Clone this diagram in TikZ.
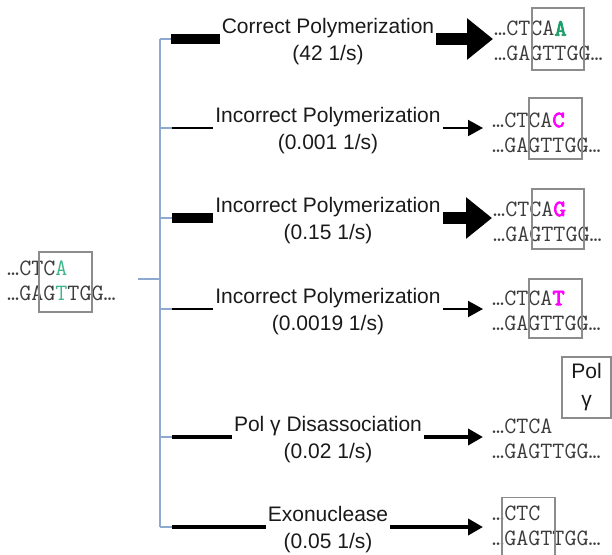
\documentclass[tikz,border=0pt]{standalone}
\usepackage{fontspec}
\setmainfont{Liberation Sans}
\newfontfamily\dnab{lmmono10-regular.otf}[FakeBold=3]
\usetikzlibrary{arrows.meta}
\definecolor{labc}{HTML}{1A1A1A}
\definecolor{dnac}{HTML}{3C3C3C}
\definecolor{boxc}{HTML}{8C8C8C}
\definecolor{brc}{HTML}{8EA9D0}
\definecolor{cgl}{HTML}{3FB58A}
\definecolor{cgd}{HTML}{1E9E6A}
\definecolor{mag}{HTML}{FF00FF}
\newcommand{\bb}[2]{\textcolor{#1}{\dnab #2}}
\begin{document}
\begin{tikzpicture}[x=1pt,y=-1pt,
 lab/.style={align=center, font=\fontsize{21}{27}\selectfont, text=labc, inner sep=2pt},
 dna/.style={align=left, font=\ttfamily\fontsize{23.4}{25}\selectfont, text=dnac, inner sep=0pt, anchor=west},
 gbox/.style={draw=boxc, line width=1.3pt, inner sep=0pt},
 bracket/.style={draw=brc, line width=1.4pt},
 thickln/.style={line width=10pt},
 thinln/.style={line width=2pt},
 medln/.style={line width=4pt},
 bigarrow/.style={line width=12pt, -{Triangle[length=26pt,width=40pt]}, shorten >=1pt},
 smallarrow/.style={line width=2pt, -{Triangle[length=15pt,width=16pt]}, shorten >=9pt},
 medarrow/.style={line width=4pt, -{Triangle[length=15pt,width=16pt]}, shorten >=9pt},
]
\useasboundingbox (0,0) rectangle (612,554);
\clip (0,0) rectangle (612,554);

% source
\node[dna] (d0) at (7,280.5) {…CTC\textcolor{cgl}{A}\\…GAG\textcolor{cgl}{T}TGG…};
\node[gbox, minimum width=53pt, minimum height=60pt] (x0) at (65.5,282) {};
\coordinate (s0) at (138,279);
\coordinate (bm) at (160,279);
\draw[bracket] (s0) -- (bm);

% bracket
\coordinate (b1) at (160,39);
\coordinate (b2) at (160,128);
\coordinate (b3) at (160,218);
\coordinate (b4) at (160,309);
\coordinate (b5) at (160,437);
\coordinate (b6) at (160,527);
\coordinate (t1) at (171,39);
\coordinate (t2) at (172,128);
\coordinate (t3) at (172,218);
\coordinate (t4) at (172,309);
\coordinate (t5) at (172,437);
\coordinate (t6) at (172,527);
\draw[bracket] (b1) -- (b6);
\foreach \i in {1,...,6} {\draw[bracket] (b\i) -- (t\i);}

% labels
\node[lab] (l1) at (328,41.5) {Correct Polymerization\\(42 1/s)};
\node[lab] (l2) at (328,130.5) {Incorrect Polymerization\\(0.001 1/s)};
\node[lab] (l3) at (328,220.5) {Incorrect Polymerization\\(0.15 1/s)};
\node[lab] (l4) at (328,311.5) {Incorrect Polymerization\\(0.0019 1/s)};
\node[lab] (l5) at (328,439.5) {Pol γ Disassociation\\(0.02 1/s)};
\node[lab] (l6) at (328,529.5) {Exonuclease\\(0.05 1/s)};

% products
\node[dna] (d1) at (494,41) {…CTCA\bb{cgd}{A}\\…GAGTTGG…};
\node[dna] (d2) at (492,132.5) {…CTCA\bb{mag}{C}\\…GAGTTGG…};
\node[dna] (d3) at (493,221.5) {…CTCA\bb{mag}{G}\\…GAGTTGG…};
\node[dna] (d4) at (492,310.5) {…CTCA\bb{mag}{T}\\…GAGTTGG…};
\node[dna] (d5) at (492,438.5) {…CTCA\\…GAGTTGG…};
\node[dna] (d6) at (492,525.5) {…CTC\\…GAGTTGG…};

\node[gbox, minimum width=52pt, minimum height=62pt] (x1) at (558,39) {};
\node[gbox, minimum width=53pt, minimum height=61pt] (x2) at (555.5,128.5) {};
\node[gbox, minimum width=52pt, minimum height=60pt] (x3) at (558,219) {};
\node[gbox, minimum width=53pt, minimum height=59pt] (x4) at (555.5,308.5) {};
\node[gbox, minimum width=53pt, minimum height=70pt, anchor=north] (x6) at (528.5,497) {};
\node[gbox, minimum width=49pt, minimum height=61pt, align=center,
      font=\fontsize{21}{28}\selectfont, text=labc] (pg) at (586.5,387.5) {Pol\\γ};

% left connectors
\draw[thickln] (t1) -- (t1 -| l1.west);
\draw[thinln] (t2) -- (t2 -| l2.west);
\draw[thickln] (t3) -- (t3 -| l3.west);
\draw[thinln] (t4) -- (t4 -| l4.west);
\draw[medln] (t5) -- (t5 -| l5.west);
\draw[medln] (t6) -- (t6 -| l6.west);

% right arrows
\draw[bigarrow] (t1 -| l1.east) -- (t1 -| d1.west);
\draw[smallarrow] (t2 -| l2.east) -- (t2 -| d2.west);
\draw[bigarrow] (t3 -| l3.east) -- (t3 -| d3.west);
\draw[smallarrow] (t4 -| l4.east) -- (t4 -| d4.west);
\draw[medarrow] (t5 -| l5.east) -- (t5 -| d5.west);
\draw[medarrow] (t6 -| l6.east) -- (t6 -| d6.west);
\end{tikzpicture}
\end{document}
